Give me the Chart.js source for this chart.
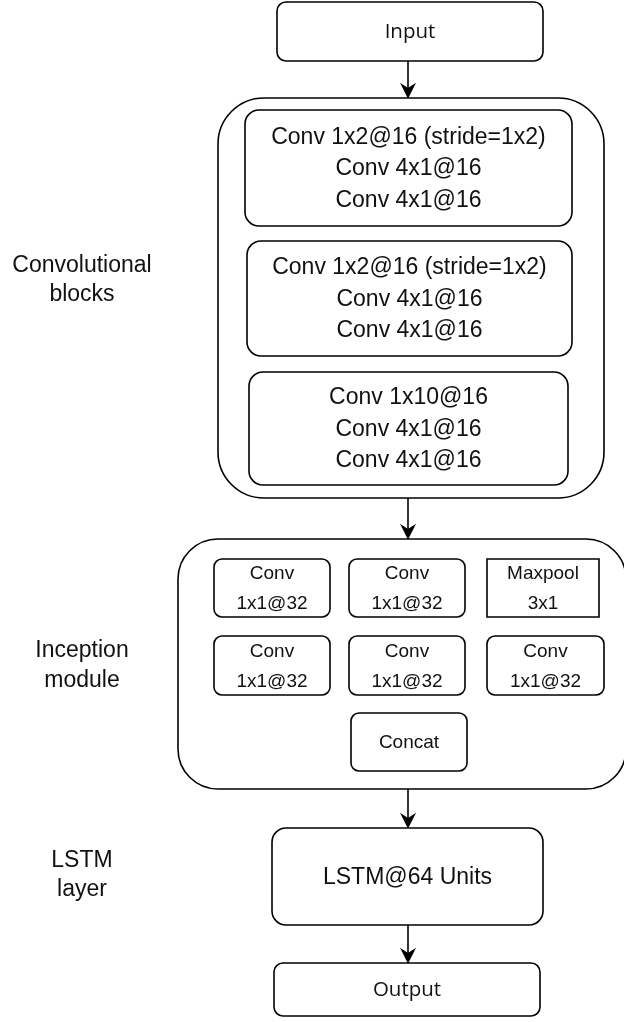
<!DOCTYPE html>
<html>
<head>
<meta charset="utf-8">
<script src="https://cdn.jsdelivr.net/npm/chart.js@4"></script>
<style>
  html, body { margin: 0; padding: 0; background: #fff; }
  #wrap { width: 624px; height: 1022px; position: relative; }
</style>
</head>
<body>
<div id="wrap"><canvas id="myChart"></canvas></div>
<script>
// boxes: [x0, y0, x1, y1, corner radius, text lines]
const boxes = [
    [277, 2, 543, 61, 9, ['Input']],
    [218, 98, 604, 498, 46, []],
    [245, 110, 572, 226, 14, ['Conv 1x2@16 (stride=1x2)', 'Conv 4x1@16', 'Conv 4x1@16']],
    [247, 241, 572, 356, 14, ['Conv 1x2@16 (stride=1x2)', 'Conv 4x1@16', 'Conv 4x1@16']],
    [249, 372, 568, 485, 14, ['Conv 1x10@16', 'Conv 4x1@16', 'Conv 4x1@16']],
    [178, 539, 626, 789, 40, []],
    [214, 559, 330, 617, 8, ['Conv', '1x1@32']],
    [349, 559, 465, 617, 8, ['Conv', '1x1@32']],
    [487, 559, 599, 617, 0, ['Maxpool', '3x1']],
    [214, 636, 330, 695, 8, ['Conv', '1x1@32']],
    [349, 636, 465, 695, 8, ['Conv', '1x1@32']],
    [487, 636, 604, 695, 8, ['Conv', '1x1@32']],
    [351, 713, 467, 771, 8, ['Concat']],
    [272, 828, 543, 925, 14, ['LSTM@64 Units']],
    [274, 963, 540, 1016, 9, ['Output']]
];
// arrows: [x, yFrom, yTo]
const arrows = [
    [408, 61, 98],
    [408, 498, 539],
    [408, 789, 828],
    [408, 925, 963]
];
// side labels: [x, y, lines]
const sideLabels = [
    [82, 280, ['Convolutional', 'blocks']],
    [82, 665.5, ['Inception', 'module']],
    [82, 875, ['LSTM', 'layer']]
];
const ioNames = ['Input', 'Output'];

const FONT = '"Liberation Sans", Arial, sans-serif';
const IO_FONT = '"Open Sans", "Noto Sans", sans-serif';

function rr(ctx, x0, y0, x1, y1, r) {
    ctx.beginPath();
    if (ctx.roundRect) ctx.roundRect(x0, y0, x1 - x0, y1 - y0, r);
    else ctx.rect(x0, y0, x1 - x0, y1 - y0);
}

const diagram = {
    id: 'diagram',
    afterDatasetsDraw(chart) {
        const ctx = chart.ctx;
        const sx = chart.scales.x, sy = chart.scales.y;
        ctx.save();
        ctx.strokeStyle = '#000';
        ctx.lineWidth = 1.6;
        ctx.textAlign = 'center';
        ctx.textBaseline = 'middle';

        boxes.forEach(b => {
            const x0 = sx.getPixelForValue(b[0]), x1 = sx.getPixelForValue(b[2]);
            const y0 = sy.getPixelForValue(b[1]), y1 = sy.getPixelForValue(b[3]);
            rr(ctx, x0, y0, x1, y1, b[4]);
            ctx.fillStyle = '#fff';
            ctx.fill();
            ctx.stroke();
            const lines = b[5];
            if (!lines.length) return;
            let step = 31.5;
            if (ioNames.includes(lines[0])) {
                ctx.font = '20.5px ' + IO_FONT;
            } else if (x1 - x0 < 140) {
                ctx.font = '19px ' + FONT;
                step = 30;
            } else {
                ctx.font = '23px ' + FONT;
            }
            ctx.fillStyle = '#111';
            const cx = (x0 + x1) / 2, cy = (y0 + y1) / 2 + 1;
            lines.forEach((t, i) => {
                ctx.fillText(t, cx, cy + (i - (lines.length - 1) / 2) * step);
            });
        });

        arrows.forEach(a => {
            const x = sx.getPixelForValue(a[0]);
            const ya = sy.getPixelForValue(a[1]), yb = sy.getPixelForValue(a[2]);
            ctx.beginPath();
            ctx.moveTo(x, ya);
            ctx.lineTo(x, yb - 8);
            ctx.stroke();
            ctx.beginPath();
            ctx.moveTo(x - 6, yb - 13);
            ctx.lineTo(x, yb - 1);
            ctx.lineTo(x + 6, yb - 13);
            ctx.lineTo(x, yb - 9);
            ctx.closePath();
            ctx.fillStyle = '#000';
            ctx.fill();
            ctx.stroke();
        });

        ctx.font = '23px ' + FONT;
        ctx.fillStyle = '#111';
        sideLabels.forEach(l => {
            const x = sx.getPixelForValue(l[0]), y = sy.getPixelForValue(l[1]);
            l[2].forEach((t, i) => {
                ctx.fillText(t, x, y + (i - (l[2].length - 1) / 2) * 29.5);
            });
        });
        ctx.restore();
    }
};

const config = {
    type: 'scatter',
    data: { datasets: [{ data: [], pointRadius: 0 }] },
    options: {
        responsive: true,
        maintainAspectRatio: false,
        animation: false,
        layout: { padding: 0 },
        plugins: { legend: { display: false }, tooltip: { enabled: false } },
        scales: {
            x: { type: 'linear', min: 0, max: 624, display: false },
            y: { type: 'linear', min: 0, max: 1022, reverse: true, display: false }
        }
    },
    plugins: [diagram]
};

const myChart = new Chart(document.getElementById('myChart'), config);
</script>
</body>
</html>
